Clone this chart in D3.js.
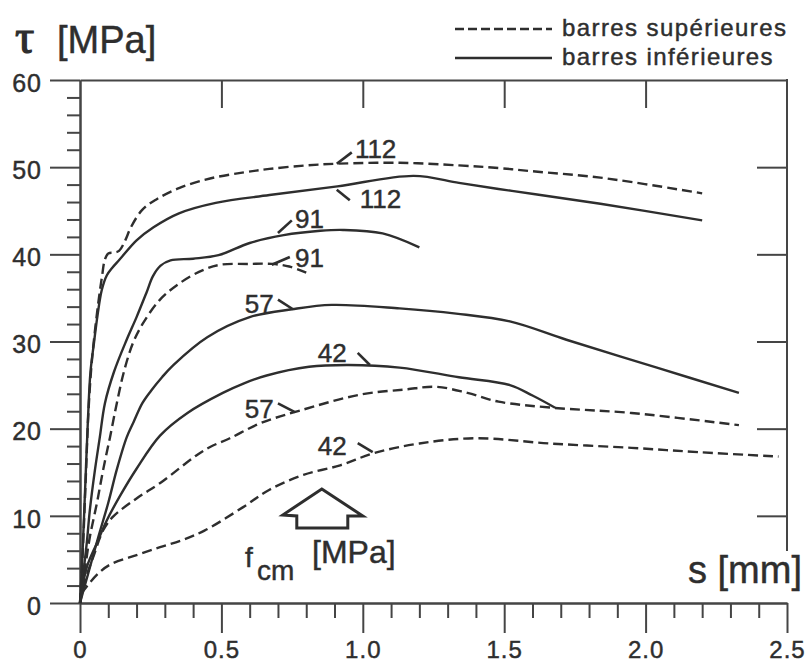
<!DOCTYPE html>
<html>
<head>
<meta charset="utf-8">
<script src="https://cdn.jsdelivr.net/npm/d3@7"></script>
<style>
  html, body { margin: 0; padding: 0; background: #fff; }
  svg { display: block; }
  text {
    font-family: "Liberation Sans", Arial, Helvetica, sans-serif;
    fill: #2e2e2e; stroke: #2e2e2e; stroke-width: 0.45px; paint-order: stroke;
  }
</style>
</head>
<body>
<svg id="chart" width="805" height="664"></svg>
<script>
// Bond stress τ versus slip s for top-cast and bottom-cast bars,
// one curve per concrete strength f_cm.

const fcmLevels = ["112", "91", "57", "42"];
const legendLabels = ["barres supérieures", "barres inférieures"];

// [s (mm), τ (MPa)] — barres supérieures (dashed)
const sup112 = [[0,0],[0.01,6],[0.02,14],[0.03,22],[0.04,27],[0.052,31],[0.065,34.5],[0.078,37.5],[0.088,39.4],[0.1,40.1],[0.12,40.2],[0.138,40.4],[0.16,41.6],[0.18,43.1],[0.22,45.1],[0.27,46.3],[0.35,47.6],[0.46,48.7],[0.58,49.4],[0.67,49.8],[0.8,50.2],[0.91,50.4],[1.13,50.5],[1.34,50.2],[1.48,49.9],[1.61,49.5],[1.84,48.8],[2.2,47.0]];
const sup91 = [[0,0],[0.018,4],[0.035,7.6],[0.06,11.5],[0.082,15.3],[0.106,19],[0.13,22.9],[0.155,26.5],[0.187,29.8],[0.223,32.1],[0.283,34.8],[0.353,36.7],[0.435,38.2],[0.495,38.8],[0.6,38.9],[0.68,38.9],[0.74,38.6],[0.8,37.9]];
const sup57 = [[0,0],[0.02,2.8],[0.047,5.3],[0.083,8.4],[0.117,9.9],[0.2,12.0],[0.285,13.8],[0.41,16.9],[0.46,17.9],[0.53,18.9],[0.636,20.6],[0.78,22.1],[0.99,23.9],[1.15,24.5],[1.26,24.8],[1.37,24.1],[1.48,23.1],[1.67,22.4],[1.95,21.8],[2.33,20.4]];
const sup42 = [[0.005,1.1],[0.024,1.9],[0.065,3.4],[0.106,4.4],[0.2,5.5],[0.283,6.4],[0.36,7.2],[0.44,8.3],[0.577,11.0],[0.67,13.0],[0.79,14.7],[0.92,15.8],[1.04,17.2],[1.2,18.3],[1.4,18.9],[1.66,18.3],[1.95,17.8],[2.19,17.3],[2.47,16.8]];

// [s (mm), τ (MPa)] — barres inférieures (solid)
const inf112 = [[0,0],[0.008,5],[0.018,13],[0.028,21],[0.037,26.5],[0.05,30],[0.062,33],[0.077,35.9],[0.095,37.6],[0.115,38.5],[0.14,39.4],[0.2,41.6],[0.26,43.1],[0.35,44.7],[0.48,45.9],[0.67,46.8],[0.91,47.8],[1.18,49.0],[1.34,48.2],[1.48,47.5],[1.61,46.9],[1.84,45.8],[2.2,43.9]];
const inf91 = [[0,0],[0.012,3.5],[0.024,6.9],[0.035,10.7],[0.053,15.3],[0.07,19],[0.088,22.9],[0.12,26.5],[0.165,30.2],[0.2,32.8],[0.235,35.6],[0.258,37.5],[0.285,38.7],[0.32,39.3],[0.4,39.5],[0.49,39.9],[0.6,41.3],[0.72,42.2],[0.85,42.7],[0.93,42.8],[1.07,42.4],[1.2,40.8]];
const inf57 = [[0,0],[0.03,3.5],[0.065,7.6],[0.1,11.5],[0.13,15.3],[0.165,19],[0.19,20.8],[0.22,22.9],[0.25,24.3],[0.29,25.9],[0.33,27.3],[0.45,30.5],[0.6,32.8],[0.75,33.7],[0.89,34.2],[1.13,33.8],[1.33,33.2],[1.52,32.3],[1.72,30.2],[2.04,27.0],[2.33,24.1]];
const inf42 = [[0,0],[0.024,4.1],[0.06,6.9],[0.095,9.5],[0.14,12.2],[0.2,15.4],[0.283,19.2],[0.38,21.8],[0.505,24.1],[0.58,25.2],[0.66,26.1],[0.81,27.1],[0.95,27.3],[1.13,27.0],[1.34,25.9],[1.52,25.0],[1.6,23.8],[1.68,22.4]];

// axis ticks
const xTickValues = [0, 0.5, 1.0, 1.5, 2.0, 2.5];
const xTickLabels = ["0", "0.5", "1.0", "1.5", "2.0", "2.5"];
const yTickValues = [0, 10, 20, 30, 40, 50, 60];
const yTickLabels = ["0", "10", "20", "30", "40", "50", "60"];

// curve name callouts: leader from the curve point to the tip, number beside it
// (all in data units: [s, τ])
const callouts = [
  { kind: "sup", fcm: "112", on: [0.908, 50.4], tip: [0.961, 51.7], at: [0.972, 51.05] },
  { kind: "inf", fcm: "112", on: [0.908, 47.4], tip: [0.954, 46.2], at: [0.989, 45.3] },
  { kind: "inf", fcm: "91",  on: [0.700, 42.45], tip: [0.749, 43.9], at: [0.760, 43.0] },
  { kind: "sup", fcm: "91",  on: [0.678, 38.8], tip: [0.742, 39.7], at: [0.760, 38.55] },
  { kind: "inf", fcm: "57",  on: [0.753, 33.7], tip: [0.700, 34.8], at: [0.583, 33.27] },
  { kind: "inf", fcm: "42",  on: [1.025, 27.3], tip: [0.982, 28.7], at: [0.841, 27.65] },
  { kind: "sup", fcm: "57",  on: [0.760, 21.9], tip: [0.700, 22.9], at: [0.583, 21.22] },
  { kind: "sup", fcm: "42",  on: [1.035, 17.3], tip: [0.982, 18.35], at: [0.841, 16.98] }
];

const series = [
  { kind: "sup", fcm: fcmLevels[0], values: sup112 },
  { kind: "sup", fcm: fcmLevels[1], values: sup91 },
  { kind: "sup", fcm: fcmLevels[2], values: sup57 },
  { kind: "sup", fcm: fcmLevels[3], values: sup42 },
  { kind: "inf", fcm: fcmLevels[0], values: inf112 },
  { kind: "inf", fcm: fcmLevels[1], values: inf91 },
  { kind: "inf", fcm: fcmLevels[2], values: inf57 },
  { kind: "inf", fcm: fcmLevels[3], values: inf42 }
];

const ink = "#2e2e2e";
const axisInk = "#454545";
const dash = "10,5";

const svg = d3.select("#chart");
const x = d3.scaleLinear().domain([0, 2.5]).range([80, 787]);
const y = d3.scaleLinear().domain([0, 60]).range([603, 80]);

function styleAxis(g) {
  g.selectAll("path.domain").attr("stroke", axisInk).attr("stroke-width", 2);
  g.selectAll(".tick line").attr("stroke", axisInk).attr("stroke-width", 2);
  g.selectAll(".tick text")
    .attr("fill", ink)
    .style("font-family", "'Liberation Sans', Arial, sans-serif")
    .style("font-size", "25px").style("letter-spacing", "1px");
}

// left axis: short ticks every 2 MPa, long labelled ticks every 10
const yMinor = d3.range(2, 60, 2).filter(v => v % 10 !== 0);
svg.append("g").attr("transform", `translate(${x(0)},0)`)
  .call(d3.axisLeft(y).tickValues(yMinor).tickSize(13).tickSizeOuter(0).tickFormat(""))
  .call(styleAxis);
svg.append("g").attr("transform", `translate(${x(0)},0)`)
  .call(d3.axisLeft(y).tickValues(yTickValues).tickSize(30).tickSizeOuter(0).tickPadding(8)
    .tickFormat((d, i) => yTickLabels[i]))
  .call(styleAxis)
  .call(g => g.selectAll(".tick text").attr("dy", "0.45em"));

// bottom axis: short ticks every 0.1 mm, long labelled ticks every 0.5
const xMinor = d3.range(1, 25).map(v => v / 10).filter(v => Math.round(v * 10) % 5 !== 0);
svg.append("g").attr("transform", `translate(0,${y(0)})`)
  .call(d3.axisBottom(x).tickValues(xMinor).tickSize(15).tickSizeOuter(0).tickFormat(""))
  .call(styleAxis);
svg.append("g").attr("transform", `translate(0,${y(0)})`)
  .call(d3.axisBottom(x).tickValues(xTickValues).tickSize(30).tickSizeOuter(0).tickPadding(8)
    .tickFormat((d, i) => xTickLabels[i]))
  .call(styleAxis)
  .call(g => g.selectAll(".tick text").style("font-size", "24px"));

// top frame with inward ticks
svg.append("g").attr("transform", `translate(0,${y(60)})`)
  .call(d3.axisTop(x).tickValues([0.5, 1.0, 1.5, 2.0]).tickSize(-28).tickSizeOuter(0).tickFormat(""))
  .call(styleAxis);

// axis titles
const yTitle = svg.append("text").attr("x", 15).attr("y", 53);
yTitle.append("tspan")
  .style("font-family", "'Liberation Serif', 'DejaVu Serif', serif")
  .style("font-size", "48px").style("stroke-width", "1.2px").text("τ");
yTitle.append("tspan").attr("x", 57).style("font-size", "38px").text("[MPa]");

const xTitle = svg.append("text").attr("x", 688).attr("y", 583)
  .style("font-size", "38px").text("s [mm]");

// right frame, interrupted above the slip label
const xTitleTop = xTitle.node().getBBox().y;
svg.append("g").attr("transform", `translate(${x(2.5)},0)`)
  .call(d3.axisRight(y).tickValues([10, 20, 30, 40, 50]).tickSize(-30).tickSizeOuter(0).tickFormat(""))
  .call(styleAxis)
  .call(g => g.select("path.domain").remove());
svg.append("line")
  .attr("x1", x(2.5)).attr("x2", x(2.5))
  .attr("y1", y(60) - 1).attr("y2", xTitleTop + 2)
  .attr("stroke", axisInk).attr("stroke-width", 2);

// curves
const line = d3.line()
  .x(d => x(d[0]))
  .y(d => y(d[1]))
  .curve(d3.curveCatmullRom.alpha(0.5));

svg.append("g").selectAll("path")
  .data(series)
  .join("path")
  .attr("d", d => line(d.values))
  .attr("fill", "none")
  .attr("stroke", ink)
  .attr("stroke-width", 2.4)
  .attr("stroke-linejoin", "round")
  .attr("stroke-dasharray", d => d.kind === "sup" ? dash : null);

// callouts
const cg = svg.append("g");
cg.selectAll("line")
  .data(callouts)
  .join("line")
  .attr("x1", d => x(d.on[0])).attr("y1", d => y(d.on[1]))
  .attr("x2", d => x(d.tip[0])).attr("y2", d => y(d.tip[1]))
  .attr("stroke", ink).attr("stroke-width", 2.6);
cg.selectAll("text")
  .data(callouts)
  .join("text")
  .attr("x", d => x(d.at[0])).attr("y", d => y(d.at[1]))
  .style("font-size", "26px")
  .text(d => d.fcm);

// legend
const legend = svg.append("g");
legendLabels.forEach((label, i) => {
  const ly = 29 + i * 29;
  legend.append("line")
    .attr("x1", 455).attr("x2", 552).attr("y1", ly).attr("y2", ly)
    .attr("stroke", ink).attr("stroke-width", 2.4)
    .attr("stroke-dasharray", i === 0 ? "9,4" : null);
  legend.append("text")
    .attr("x", 562).attr("y", ly + 7)
    .style("font-size", "24px").style("letter-spacing", "1.4px")
    .text(label);
});

// arrow pointing toward increasing f_cm, with its caption
const tipX = x(0.855), tipY = y(13.08);
const arrowShape = [[0,0],[41,27],[26,27],[26,39],[-25,39],[-25,27],[-39,26]];
svg.append("path")
  .attr("d", "M" + arrowShape.map(p => [tipX + p[0], tipY + p[1]].join(",")).join("L") + "Z")
  .attr("fill", "#fff").attr("stroke", ink).attr("stroke-width", 3)
  .attr("stroke-linejoin", "miter");

const fcmLabel = svg.append("text").attr("x", 245).attr("y", 567);
fcmLabel.append("tspan").style("font-size", "28px").text("f");
fcmLabel.append("tspan").attr("x", 257).attr("y", 580).style("font-size", "28px").text("cm");
fcmLabel.append("tspan").attr("x", 312).attr("y", 563).style("font-size", "32px").text("[MPa]");
</script>
</body>
</html>
